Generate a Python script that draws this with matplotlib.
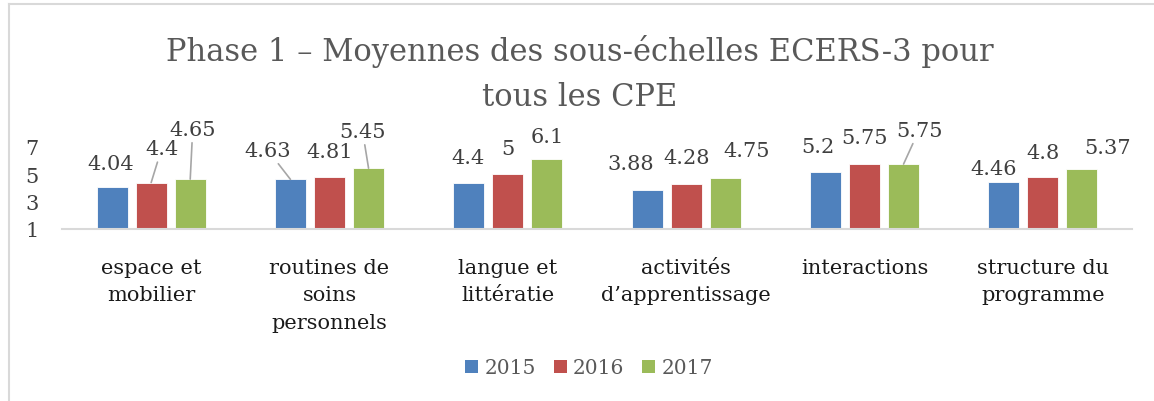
import matplotlib
matplotlib.use("Agg")
import matplotlib.pyplot as plt
from matplotlib.patches import Patch
from matplotlib.lines import Line2D
import numpy as np

categories = ["espace et\nmobilier", "routines de\nsoins\npersonnels", "langue et\nlittératie",
              "activités\nd\u2019apprentissage", "interactions", "structure du\nprogramme"]
years = ["2015", "2016", "2017"]
v2015 = [4.04, 4.63, 4.4, 3.88, 5.2, 4.46]
v2016 = [4.4, 4.81, 5, 4.28, 5.75, 4.8]
v2017 = [4.65, 5.45, 6.1, 4.75, 5.75, 5.37]
series = [v2015, v2016, v2017]
title = "Phase 1 \u2013 Moyennes des sous-\u00e9chelles ECERS-3 pour\ntous les CPE"

colors = ["#4F81BD", "#C0504D", "#9BBB59"]
# label offsets in pixels (dx, dy from bar top) and leader flag
offsets = [
    [(-1.5, -24, 0), (-22.5, -29, 1), (-1, -25, 0), (-16, -26, 0), (-7.5, -25, 0), (-10.5, -13, 0)],
    [(10.5, -34, 1), (0, -25, 0), (0, -26, 0), (0, -27, 0), (0, -27, 0), (0, -25, 0)],
    [(2.5, -50, 1), (-6, -37, 1), (0, -23, 0), (21.5, -27, 0), (15.5, -34, 1), (26, -22, 0)],
]

plt.rcParams["font.family"] = ["DejaVu Serif"]
W, H = 1154, 402
fig = plt.figure(figsize=(W / 100, H / 100), dpi=100)
ax = fig.add_axes([62 / W, 1 - 230 / H, (1132 - 62) / W, (230 - 148) / H])

x = np.arange(len(categories))
bw = 0.175
step = 0.219
for i, vals in enumerate(series):
    xs = x + (i - 1) * step
    ax.bar(xs, np.array(vals) - 1, bottom=1, width=bw, color=colors[i],
           edgecolor="white", linewidth=0.6, zorder=2)
    for j, v in enumerate(vals):
        dx, dy, lead = offsets[i][j]
        kw = {}
        if lead:
            kw["arrowprops"] = dict(arrowstyle="-", color="#a6a6a6", lw=1.2,
                                    shrinkA=1, shrinkB=0)
        ax.annotate(f"{v:g}", xy=(xs[j], v), xytext=(dx * 0.72, -dy * 0.72),
                    textcoords="offset points", ha="center", va="center",
                    fontsize=15, color="#404040", annotation_clip=False, **kw)

ax.set_xlim(-0.5, len(categories) - 0.5)
ax.set_ylim(1, 7)
ax.set_yticks([1, 3, 5, 7])
ax.set_xticks(x)
ax.set_xticklabels(categories, fontsize=15, color="#1a1a1a", linespacing=1.55, va="top")
for s in ["top", "right", "left"]:
    ax.spines[s].set_visible(False)
ax.spines["bottom"].set_color("#d9d9d9")
ax.spines["bottom"].set_linewidth(1.5)
ax.tick_params(axis="x", length=0, pad=21)
ax.tick_params(axis="y", length=0, pad=17, labelsize=15, labelcolor="#404040")

fig.text(580 / W, 1 - 74 / H, title, ha="center", va="center", fontsize=22,
         color="#595959", linespacing=1.6)

handles = [Patch(facecolor=c, edgecolor="none") for c in colors]
fig.legend(handles, years, loc="center", bbox_to_anchor=(589 / W, 1 - 369 / H), ncol=3,
           frameon=False, fontsize=14.5, labelcolor="#595959", handlelength=0.65,
           handleheight=0.65, handletextpad=0.3, columnspacing=0.9)

fig.add_artist(Line2D([9 / W, 1], [1 - 5 / H, 1 - 5 / H], transform=fig.transFigure,
                      color="#d9d9d9", lw=1.5))
fig.add_artist(Line2D([9 / W, 9 / W], [0, 1 - 5 / H], transform=fig.transFigure,
                      color="#d9d9d9", lw=1.5))

fig.savefig("out.png", dpi=100)
